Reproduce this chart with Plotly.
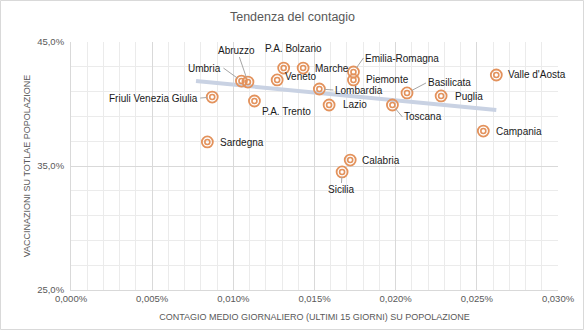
import plotly.graph_objects as go

regions = ["Valle d'Aosta", "Campania", "Puglia", "Basilicata", "Toscana",
           "Emilia-Romagna", "Piemonte", "Lombardia", "Marche", "P.A. Bolzano",
           "Veneto", "Lazio", "Abruzzo", "Umbria", "P.A. Trento",
           "Friuli Venezia Giulia", "Sardegna", "Calabria", "Sicilia"]
contagio = [0.0262, 0.0254, 0.0228, 0.0207, 0.0198,
            0.0174, 0.0174, 0.0153, 0.0143, 0.0131,
            0.0127, 0.0159, 0.0109, 0.0105, 0.0113,
            0.0087, 0.0084, 0.0172, 0.0167]
vaccinazioni = [42.34, 37.82, 40.65, 40.89, 39.92,
                42.58, 41.94, 41.21, 42.90, 42.90,
                41.94, 39.92, 41.77, 41.85, 40.24,
                40.56, 36.94, 35.48, 34.52]

# trendline
trend_x = [0.0077, 0.0262]
trend_y = [41.85, 39.52]

x_ticks = [0.0, 0.005, 0.010, 0.015, 0.020, 0.025, 0.030]
y_ticks = [25, 35, 45]

# label placement: (xanchor, ax, ay, leader line)
label_pos = {
    "Valle d'Aosta": ("left", 10, 0, False),
    "Campania": ("left", 11, 0, False),
    "Puglia": ("left", 12, 1, False),
    "Basilicata": ("left", 19, -10, True),
    "Toscana": ("left", 10, 12, True),
    "Emilia-Romagna": ("left", 10, -14, True),
    "Piemonte": ("left", 11, 0, False),
    "Lombardia": ("left", 14, 1, True),
    "Marche": ("left", 10, 0, False),
    "P.A. Bolzano": ("center", 10, -20, False),
    "Veneto": ("left", 6, -3, False),
    "Lazio": ("left", 12, 0, False),
    "Abruzzo": ("center", -11, -32, True),
    "Umbria": ("right", -18, -13, True),
    "P.A. Trento": ("left", 6, 10, False),
    "Friuli Venezia Giulia": ("right", -12, 1, True),
    "Sardegna": ("left", 11, 1, False),
    "Calabria": ("left", 10, 0, False),
    "Sicilia": ("center", -1, 18, True),
}

FONT = "Liberation Sans, Arial, sans-serif"
ORANGE = "#E3925C"

fig = go.Figure()

fig.add_trace(go.Scatter(x=trend_x, y=trend_y, mode="lines",
                         line=dict(color="#C9D2E3", width=4),
                         hoverinfo="skip", showlegend=False))

fig.add_trace(go.Scatter(x=contagio, y=vaccinazioni, mode="markers",
                         marker=dict(symbol="circle-open", size=11,
                                     line=dict(color=ORANGE, width=1.8), color=ORANGE),
                         text=regions, showlegend=False))
fig.add_trace(go.Scatter(x=contagio, y=vaccinazioni, mode="markers",
                         marker=dict(symbol="circle-open", size=5,
                                     line=dict(color=ORANGE, width=1.6), color=ORANGE),
                         hoverinfo="skip", showlegend=False))

for name, xv, yv in zip(regions, contagio, vaccinazioni):
    xa, ax, ay, leader = label_pos[name]
    fig.add_annotation(x=xv, y=yv, text=name, showarrow=True,
                       arrowhead=0, arrowwidth=1,
                       arrowcolor="#A6A6A6" if leader else "rgba(0,0,0,0)",
                       ax=ax, ay=ay, xanchor=xa, yanchor="middle",
                       standoff=5, startstandoff=0,
                       font=dict(family=FONT, size=10, color="#1a1a1a"))

W, H = 585, 331
L, R, T, B = 71, 27, 42, 41
pw, ph = W - L - R, H - T - B
fig.add_shape(type="rect", xref="paper", yref="paper",
              x0=-(L - 0.5) / pw, x1=1 + (R - 1.5) / pw,
              y0=-(B - 1.5) / ph, y1=1 + (T - 0.5) / ph,
              line=dict(color="#D9D9D9", width=1), layer="below")

fig.update_layout(
    width=W, height=H, margin=dict(l=L, r=R, t=T, b=B),
    paper_bgcolor="white", plot_bgcolor="white",
    title=dict(text="Tendenza del contagio", x=0.5, xanchor="center",
               y=1 - 17 / H, yanchor="middle",
               font=dict(family=FONT, size=12.5, color="#595959")),
    xaxis=dict(range=[0, 0.03], tickvals=x_ticks, automargin=False,
               ticktext=[f"{v:.3f}".replace(".", ",") + "%" for v in x_ticks],
               showgrid=True, gridcolor="#D9D9D9", gridwidth=1,
               minor=dict(dtick=0.001, tick0=0, showgrid=True, gridcolor="#EBEBEB", gridwidth=1),
               showline=True, linecolor="#D9D9D9", zeroline=False, ticks="",
               tickfont=dict(family=FONT, size=9.5, color="#595959"),
               title=dict(text="CONTAGIO MEDIO GIORNALIERO (ULTIMI 15 GIORNI) SU POPOLAZIONE",
                          standoff=10, font=dict(family=FONT, size=9, color="#595959"))),
    yaxis=dict(range=[25, 45], tickvals=y_ticks, automargin=False,
               ticktext=[f"{v:.1f}".replace(".", ",") + "%" for v in y_ticks],
               showgrid=True, gridcolor="#D9D9D9", gridwidth=1,
               minor=dict(dtick=2, tick0=25, showgrid=True, gridcolor="#EBEBEB", gridwidth=1),
               showline=True, linecolor="#D9D9D9", zeroline=False, ticks="",
               ticklabelstandoff=4,
               tickfont=dict(family=FONT, size=9.5, color="#595959"),
               title=dict(text="VACCINAZIONI SU TOTLAE POPOLAZIONE",
                          standoff=5, font=dict(family=FONT, size=9, color="#595959"))),
)

fig.write_html("out.html")
